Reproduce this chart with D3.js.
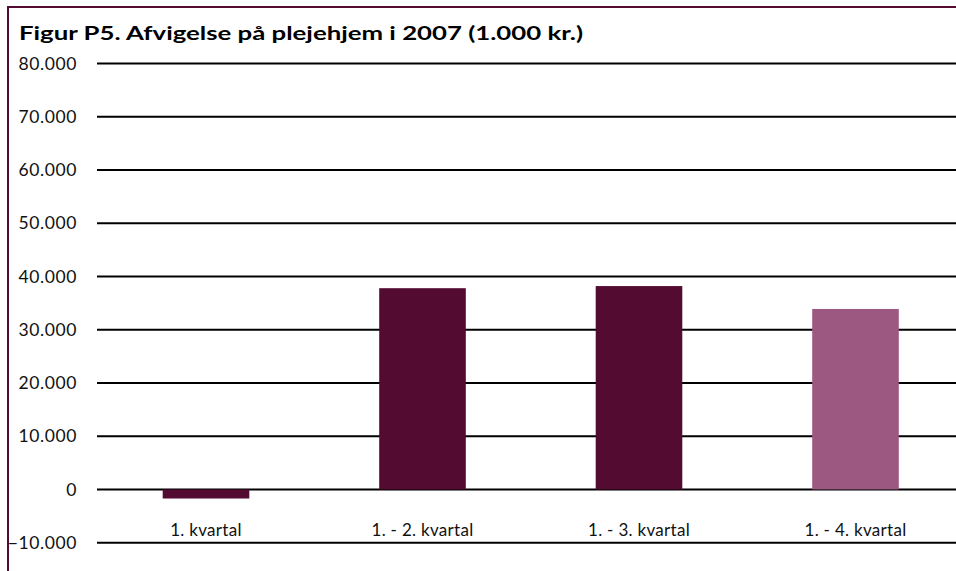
<!DOCTYPE html>
<html>
<head>
<meta charset="utf-8">
<script src="https://cdn.jsdelivr.net/npm/d3@7"></script>
<style>
  body { margin: 0; background: #fff; }
  svg { display: block; font-family: "Lato", "Open Sans", sans-serif; }
</style>
</head>
<body>
<script>
// Data
const categories = ["1. kvartal", "1. - 2. kvartal", "1. - 3. kvartal", "1. - 4. kvartal"];
const values = [-1700, 37800, 38200, 33900];
const barColors = ["#540B32", "#540B32", "#540B32", "#9D5882"];
const yTicks = [-10000, 0, 10000, 20000, 30000, 40000, 50000, 60000, 70000, 80000];
const title = "Figur P5. Afvigelse på plejehjem i 2007 (1.000 kr.)";

const W = 956, H = 571;

const svg = d3.select("body").append("svg")
    .attr("width", W)
    .attr("height", H);

// ramme
svg.append("rect")
    .attr("x", 8).attr("y", 7)
    .attr("width", W + 20).attr("height", H + 20)
    .attr("fill", "none")
    .attr("stroke", "#540B32")
    .attr("stroke-width", 2);

const y = d3.scaleLinear().domain([-10000, 80000]).range([542.7, 63.5]);
const x = d3.scaleBand().domain(categories)
    .range([97.75, 963.75])
    .paddingInner(0.6)
    .paddingOuter(0.3);

const fmt = v => d3.format(",")(v).replace(/,/g, ".");

// gitterlinjer
svg.append("g")
    .selectAll("line")
    .data(yTicks)
    .join("line")
    .attr("x1", 97).attr("x2", W)
    .attr("y1", d => y(d)).attr("y2", d => y(d))
    .attr("stroke", "#000")
    .attr("stroke-width", 2);

// y-akse labels
svg.append("g")
    .selectAll("text")
    .data(yTicks)
    .join("text")
    .attr("x", 77)
    .attr("y", d => y(d))
    .attr("dy", "0.35em")
    .attr("text-anchor", "end")
    .style("font-size", "17.5px")
    .style("letter-spacing", "0.6px")
    .attr("fill", "#111")
    .text(d => fmt(d));

// søjler
svg.append("g")
    .selectAll("rect")
    .data(values)
    .join("rect")
    .attr("x", (d, i) => x(categories[i]))
    .attr("width", x.bandwidth())
    .attr("y", d => y(Math.max(0, d)))
    .attr("height", d => Math.abs(y(d) - y(0)))
    .attr("fill", (d, i) => barColors[i]);

// kategori labels
svg.append("g")
    .selectAll("text")
    .data(categories)
    .join("text")
    .attr("x", d => x(d) + x.bandwidth() / 2)
    .attr("y", 536)
    .attr("text-anchor", "middle")
    .style("font-size", "17px")
    .style("letter-spacing", "0.3px")
    .attr("fill", "#111")
    .text(d => d);

// titel
svg.append("text")
    .attr("x", 19)
    .attr("y", 40)
    .attr("textLength", 564)
    .attr("lengthAdjust", "spacingAndGlyphs")
    .style("font-size", "19px")
    .style("font-weight", "bold")
    .attr("fill", "#000")
    .text(title);
</script>
</body>
</html>
